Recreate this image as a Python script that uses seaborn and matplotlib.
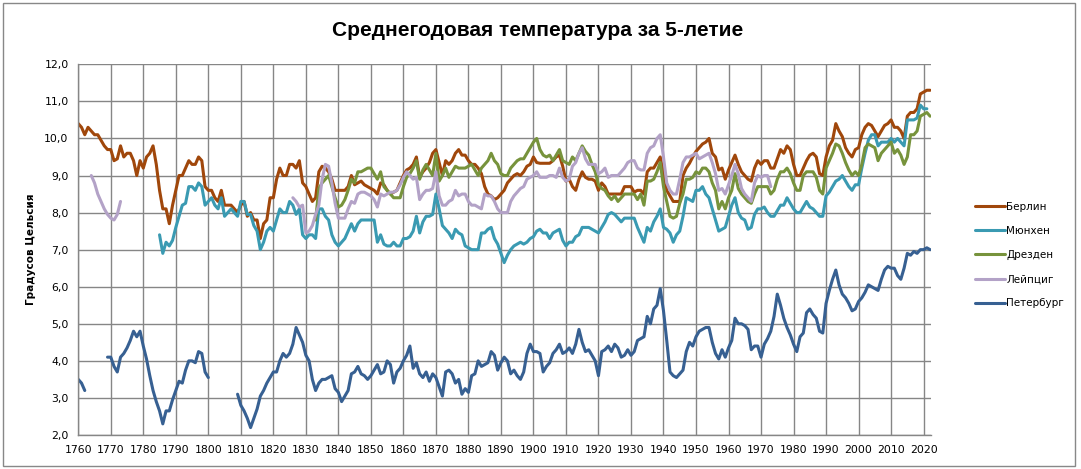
import numpy as np
import pandas as pd
import matplotlib
matplotlib.use("Agg")
import matplotlib.pyplot as plt
from matplotlib.lines import Line2D
from matplotlib.patches import Rectangle
from matplotlib.ticker import FuncFormatter, MultipleLocator
import seaborn as sns

# 5-year running mean temperatures
cities = ["Берлин", "Мюнхен", "Дрезден", "Лейпциг", "Петербург"]
colors = ["#A0470B", "#3A9AB2", "#77933C", "#B3A2C7", "#376092"]

berlin_start = 1760
berlin = [
    10.4, 10.3, 10.1, 10.3, 10.2, 10.1, 10.1, 9.95, 9.8, 9.7,
    9.7, 9.4, 9.45, 9.8, 9.5, 9.6, 9.6, 9.4, 9.0, 9.4,
    9.2, 9.5, 9.6, 9.8, 9.3, 8.6, 8.1, 8.1, 7.7, 8.2,
    8.6, 9.0, 9.0, 9.2, 9.4, 9.3, 9.3, 9.5, 9.4, 8.7,
    8.6, 8.6, 8.4, 8.3, 8.6, 8.2, 8.2, 8.2, 8.1, 8.0,
    8.2, 8.3, 7.9, 8.0, 7.8, 7.8, 7.3, 7.7, 7.8, 8.4,
    8.4, 8.9, 9.2, 9.0, 9.0, 9.3, 9.3, 9.2, 9.4, 8.8,
    8.7, 8.5, 8.3, 8.4, 9.1, 9.25, 9.2, 9.1, 8.9, 8.6,
    8.6, 8.6, 8.6, 8.7, 9.0, 8.75, 8.8, 8.85, 8.75, 8.7,
    8.65, 8.6, 8.5, 8.8, 8.75, 8.6, 8.5, 8.55, 8.6, 8.8,
    9.0, 9.15, 9.2, 9.3, 9.5, 8.95, 9.1, 9.2, 9.35, 9.6,
    9.7, 9.35, 9.0, 9.4, 9.3, 9.4, 9.6, 9.7, 9.55, 9.55,
    9.4, 9.3, 9.3, 9.2, 9.05, 8.7, 8.5, 8.45, 8.35, 8.4,
    8.5, 8.6, 8.8, 8.9, 9.0, 9.05, 9.0, 9.1, 9.25, 9.3,
    9.5, 9.35, 9.33, 9.33, 9.33, 9.33, 9.4, 9.5, 9.55, 9.25,
    8.85, 8.9, 8.7, 8.6, 8.9, 9.1, 8.95, 8.9, 8.9, 8.85,
    8.6, 8.8, 8.7, 8.5, 8.5, 8.5, 8.5, 8.5, 8.7, 8.7,
    8.7, 8.55, 8.6, 8.6, 8.5, 9.1, 9.2, 9.2, 9.35, 9.5,
    9.05, 8.6, 8.45, 8.3, 8.3, 8.3, 9.0, 9.2, 9.33, 9.5,
    9.65, 9.75, 9.85, 9.9, 10.0, 9.6, 9.5, 9.15, 9.2, 8.9,
    9.15, 9.35, 9.55, 9.3, 9.1, 9.0, 8.9, 8.85, 9.2, 9.4,
    9.3, 9.4, 9.4, 9.2, 9.2, 9.45, 9.7, 9.6, 9.8, 9.7,
    9.3, 9.0, 9.0, 9.2, 9.4, 9.55, 9.6, 9.5, 9.05, 9.0,
    9.5, 9.8, 9.95, 10.4, 10.2, 10.05, 9.75, 9.6, 9.5, 9.7,
    9.75, 10.1, 10.3, 10.4, 10.35, 10.2, 10.05, 10.2, 10.35, 10.4,
    10.5, 10.3, 10.3, 10.2, 10.0, 10.6, 10.7, 10.7, 10.8, 11.2,
    11.25, 11.3, 11.3,
]

munich_start = 1785
munich = [
    7.4, 6.9, 7.2, 7.1, 7.25,
    7.6, 7.9, 8.2, 8.25, 8.7, 8.7, 8.6, 8.8, 8.7, 8.2,
    8.3, 8.4, 8.2, 8.1, 8.4, 7.9, 8.0, 8.1, 8.0, 7.9,
    8.3, 8.3, 7.95, 7.95, 7.65, 7.5, 7.0, 7.2, 7.5, 7.6,
    7.5, 7.8, 8.1, 8.0, 8.0, 8.3, 8.2, 7.95, 8.1, 7.4,
    7.3, 7.4, 7.4, 7.3, 8.1, 8.1, 7.9, 7.8, 7.4, 7.2,
    7.1, 7.2, 7.3, 7.5, 7.7, 7.5, 7.7, 7.8, 7.8, 7.8,
    7.8, 7.8, 7.2, 7.4, 7.15, 7.1, 7.1, 7.2, 7.1, 7.1,
    7.3, 7.3, 7.35, 7.5, 7.9, 7.45, 7.75, 7.9, 7.9, 7.95,
    8.5, 8.1, 7.65, 7.55, 7.45, 7.3, 7.55, 7.45, 7.4, 7.1,
    7.05, 7.0, 7.0, 7.0, 7.45, 7.45, 7.55, 7.6, 7.3, 7.15,
    6.9, 6.65, 6.85, 7.0, 7.1, 7.15, 7.2, 7.15, 7.2, 7.3,
    7.35, 7.5, 7.55, 7.45, 7.45, 7.3, 7.45, 7.5, 7.55, 7.25,
    7.1, 7.2, 7.2, 7.35, 7.4, 7.6, 7.6, 7.6, 7.55, 7.5,
    7.45, 7.6, 7.75, 7.95, 8.0, 7.95, 7.85, 7.75, 7.85, 7.85,
    7.85, 7.85, 7.6, 7.4, 7.2, 7.6, 7.5, 7.75, 7.9, 8.1,
    7.6, 7.55, 7.45, 7.2, 7.4, 7.5, 7.9, 8.4, 8.35, 8.3,
    8.6, 8.6, 8.7, 8.5, 8.4, 8.1, 7.8, 7.5, 7.55, 7.6,
    7.9, 8.2, 8.4, 8.0, 7.85, 7.8, 7.55, 7.6, 7.95, 8.1,
    8.1, 8.15, 8.0, 7.9, 7.9, 8.05, 8.2, 8.2, 8.4, 8.25,
    8.1, 8.0, 8.0, 8.15, 8.3, 8.15, 8.1, 8.0, 7.9, 7.9,
    8.45, 8.55, 8.7, 8.85, 8.9, 9.0, 8.85, 8.7, 8.6, 8.75,
    8.75, 9.2, 9.6, 9.95, 10.1, 10.1, 9.8, 9.9, 9.9, 9.9,
    10.0, 9.9, 10.0, 9.9, 9.8, 10.5, 10.5, 10.5, 10.55, 10.9,
    10.8, 10.8,
]

dresden_start = 1833
dresden = [
    7.8, 8.65, 8.8, 8.9, 9.0, 8.7, 8.4,
    8.15, 8.2, 8.35, 8.6, 8.9, 8.8, 9.1, 9.1, 9.15, 9.2,
    9.2, 9.05, 8.9, 9.1, 8.7, 8.6, 8.5, 8.4, 8.4, 8.4,
    8.7, 8.95, 9.05, 9.2, 9.4, 8.9, 9.15, 9.3, 9.15, 9.0,
    9.6, 8.85, 9.0, 9.2, 8.95, 9.1, 9.25, 9.2, 9.2, 9.2,
    9.25, 9.3, 9.15, 9.0, 9.2, 9.3, 9.4, 9.6, 9.4, 9.3,
    9.05, 9.0, 9.0, 9.2, 9.3, 9.4, 9.45, 9.45, 9.6, 9.75,
    9.9, 10.0, 9.7, 9.55, 9.5, 9.55, 9.4, 9.55, 9.7, 9.4,
    9.35, 9.3, 9.5, 9.4, 9.6, 9.8, 9.65, 9.55, 9.3, 9.1,
    8.75, 8.65, 8.6, 8.45, 8.35, 8.45, 8.3, 8.4, 8.5, 8.5,
    8.5, 8.5, 8.35, 8.5, 8.2, 8.85, 8.85, 8.9, 9.1, 9.35,
    8.7, 8.3, 7.9, 7.85, 7.9, 8.25, 8.5, 8.9, 8.9, 8.95,
    9.1, 9.05, 9.2, 9.2, 9.1, 8.8, 8.6, 8.1, 8.3, 8.1,
    8.4, 8.6, 9.05, 8.65, 8.5, 8.4, 8.3, 8.25, 8.5, 8.7,
    8.7, 8.7, 8.7, 8.5, 8.6, 8.9, 9.1, 9.1, 9.2, 9.05,
    8.8, 8.6, 8.6, 9.0, 9.1, 9.1, 9.1, 8.95, 8.6, 8.5,
    9.2, 9.4, 9.6, 9.85, 9.8, 9.6, 9.35, 9.15, 9.0, 9.1,
    9.0, 9.3, 9.75, 9.85, 9.8, 9.75, 9.4, 9.6, 9.7, 9.8,
    9.9, 9.6, 9.7, 9.55, 9.3, 9.5, 10.1, 10.1, 10.2, 10.6,
    10.65, 10.7, 10.6,
]

leipzig_early_start = 1764
leipzig_early = [9.0, 8.8, 8.5, 8.3, 8.1, 7.95, 7.85, 7.8, 7.95, 8.3]

leipzig_start = 1826
leipzig = [
    8.4, 8.3, 8.15, 8.2,
    7.45, 7.5, 7.65, 7.95, 8.2, 8.9, 9.3, 9.25, 8.8, 8.25,
    7.85, 7.85, 7.85, 8.1, 8.3, 8.25, 8.5, 8.55, 8.55, 8.5,
    8.45, 8.35, 8.15, 8.5, 8.45, 8.5, 8.55, 8.55, 8.6, 8.75,
    8.95, 9.1, 9.0, 8.9, 8.95, 8.35, 8.5, 8.6, 8.6, 8.65,
    9.1, 8.45, 8.2, 8.2, 8.3, 8.35, 8.6, 8.45, 8.5, 8.5,
    8.3, 8.2, 8.2, 8.15, 8.1, 8.5, 8.45, 8.45, 8.3, 8.1,
    8.0, 8.0, 8.0, 8.3, 8.45, 8.55, 8.65, 8.7, 8.9, 8.95,
    9.0, 9.1, 8.95, 8.95, 8.95, 9.0, 9.0, 8.95, 9.2, 8.95,
    8.85, 8.9, 9.25, 9.35, 9.6, 9.75, 9.45, 9.3, 9.3, 9.3,
    9.05, 9.1, 9.2, 8.95, 9.0, 9.0, 9.0, 9.1, 9.2, 9.35,
    9.4, 9.4, 9.2, 9.15, 9.15, 9.6, 9.75, 9.8, 10.0, 10.1,
    9.5, 8.8, 8.6, 8.5, 8.5, 8.9, 9.35, 9.5, 9.5, 9.55,
    9.6, 9.45, 9.5, 9.55, 9.6, 9.35, 9.05, 8.6, 8.65, 8.5,
    8.75, 9.0, 9.3, 9.05, 8.65, 8.5, 8.4, 8.3, 8.8, 9.0,
    8.95, 9.0, 9.0, 8.7,
]

peter_a_start = 1760
peter_a = [3.5, 3.4, 3.2]

peter_b_start = 1769
peter_b = [
    4.1, 4.1, 3.85, 3.7, 4.1, 4.2, 4.35, 4.55, 4.8, 4.65,
    4.8, 4.4, 4.05, 3.6, 3.2, 2.9, 2.65, 2.3, 2.65, 2.65,
    2.95, 3.2, 3.45, 3.4, 3.75, 4.0, 4.0, 3.95, 4.25, 4.2,
    3.7, 3.55,
]

peter_c_start = 1809
peter_c = [
    3.1,
    2.8, 2.65, 2.45, 2.2, 2.45, 2.7, 3.05, 3.2, 3.4, 3.55,
    3.7, 3.7, 4.0, 4.2, 4.1, 4.2, 4.45, 4.9, 4.7, 4.5,
    4.15, 4.0, 3.5, 3.2, 3.4, 3.5, 3.5, 3.55, 3.6, 3.25,
    3.15, 2.9, 3.05, 3.2, 3.65, 3.7, 3.85, 3.65, 3.6, 3.5,
    3.6, 3.75, 3.9, 3.65, 3.7, 4.0, 3.9, 3.4, 3.7, 3.8,
    4.0, 4.15, 4.4, 3.8, 3.95, 3.65, 3.55, 3.7, 3.45, 3.65,
    3.55, 3.3, 3.05, 3.7, 3.75, 3.65, 3.4, 3.5, 3.1, 3.25,
    3.15, 3.6, 3.65, 4.0, 3.85, 3.9, 3.95, 4.25, 4.15, 3.75,
    3.95, 4.1, 4.0, 3.65, 3.75, 3.6, 3.5, 3.7, 4.2, 4.45,
    4.25, 4.25, 4.2, 3.7, 3.85, 3.95, 4.2, 4.3, 4.45, 4.2,
    4.25, 4.35, 4.2, 4.45, 4.85, 4.5, 4.25, 4.3, 4.15, 4.0,
    3.6, 4.25, 4.3, 4.4, 4.25, 4.45, 4.35, 4.1, 4.15, 4.3,
    4.15, 4.25, 4.55, 4.6, 4.65, 5.2, 5.0, 5.4, 5.5, 5.95,
    5.35, 4.55, 3.7, 3.6, 3.55, 3.65, 3.75, 4.25, 4.5, 4.4,
    4.65, 4.8, 4.85, 4.9, 4.9, 4.5, 4.2, 4.05, 4.3, 4.1,
    4.35, 4.55, 5.15, 5.0, 5.0, 4.95, 4.85, 4.3, 4.4, 4.4,
    4.1, 4.45, 4.6, 4.8, 5.2, 5.8, 5.5, 5.15, 4.9, 4.7,
    4.45, 4.25, 4.65, 4.75, 5.3, 5.4, 5.25, 5.15, 4.8, 4.75,
    5.55, 5.9, 6.2, 6.45, 6.05, 5.8, 5.7, 5.55, 5.35, 5.4,
    5.6, 5.7, 5.85, 6.05, 6.0, 5.95, 5.9, 6.2, 6.45, 6.55,
    6.5, 6.5, 6.3, 6.2, 6.5, 6.9, 6.85, 6.95, 6.9, 7.0,
    7.0, 7.05, 7.0,
]

segments = [
    ("Берлин", berlin_start, berlin),
    ("Мюнхен", munich_start, munich),
    ("Дрезден", dresden_start, dresden),
    ("Лейпциг", leipzig_early_start, leipzig_early),
    ("Лейпциг", leipzig_start, leipzig),
    ("Петербург", peter_a_start, peter_a),
    ("Петербург", peter_b_start, peter_b),
    ("Петербург", peter_c_start, peter_c),
]

frames = []
for i, (city, start, vals) in enumerate(segments):
    frames.append(pd.DataFrame({
        "year": start + np.arange(len(vals)),
        "temp": vals,
        "city": city,
        "seg": i,
    }))
df = pd.concat(frames, ignore_index=True)

sns.set_style("white")
plt.rcParams["font.family"] = ["DejaVu Sans"]
plt.rcParams["text.color"] = "black"
plt.rcParams["axes.labelcolor"] = "black"

fig = plt.figure(figsize=(10.81, 4.69), dpi=100)
ax = fig.add_axes([0.0724, 0.0725, 0.7886, 0.7904])

sns.lineplot(data=df, x="year", y="temp", hue="city", hue_order=cities,
             palette=colors, units="seg", estimator=None, lw=2.2,
             solid_joinstyle="round", solid_capstyle="round",
             legend=False, ax=ax)

grid_c = "#868686"
ax.set_xlim(1760, 2022.2)
ax.set_ylim(2, 12)
ax.xaxis.set_major_locator(MultipleLocator(10))
ax.yaxis.set_major_locator(MultipleLocator(1))
ax.yaxis.set_major_formatter(FuncFormatter(lambda v, p: f"{v:.1f}".replace(".", ",")))
ax.grid(True, color=grid_c, lw=1.0)
ax.set_axisbelow(True)
for s in ["top", "right"]:
    ax.spines[s].set_visible(False)
for s in ["left", "bottom"]:
    ax.spines[s].set_color(grid_c)
    ax.spines[s].set_linewidth(1.0)
ax.tick_params(axis="both", labelsize=7.8, length=4, color=grid_c, pad=3,
               labelcolor="black")
ax.set_xlabel("")
ax.set_ylabel("Градусов Цельсия", fontsize=7.5, fontweight="bold", labelpad=6,
              color="black")

fig.text(0.497, 0.936, "Среднегодовая температура за 5-летие",
         ha="center", va="center", fontsize=15, fontweight="bold", color="black",
         family=["Liberation Sans", "DejaVu Sans"])

handles = [Line2D([], [], color=c, lw=2.2) for c in colors]
fig.legend(handles, cities, loc="center left", bbox_to_anchor=(0.893, 0.456),
           frameon=False, fontsize=7.5, handlelength=2.9, handletextpad=0.15,
           labelspacing=1.35, labelcolor="black")

fig.patches.append(Rectangle((0.003, 0.006), 0.991, 0.987, transform=fig.transFigure,
                             fill=False, edgecolor="#888888", lw=1.0))

fig.savefig("out.png", dpi=100)
